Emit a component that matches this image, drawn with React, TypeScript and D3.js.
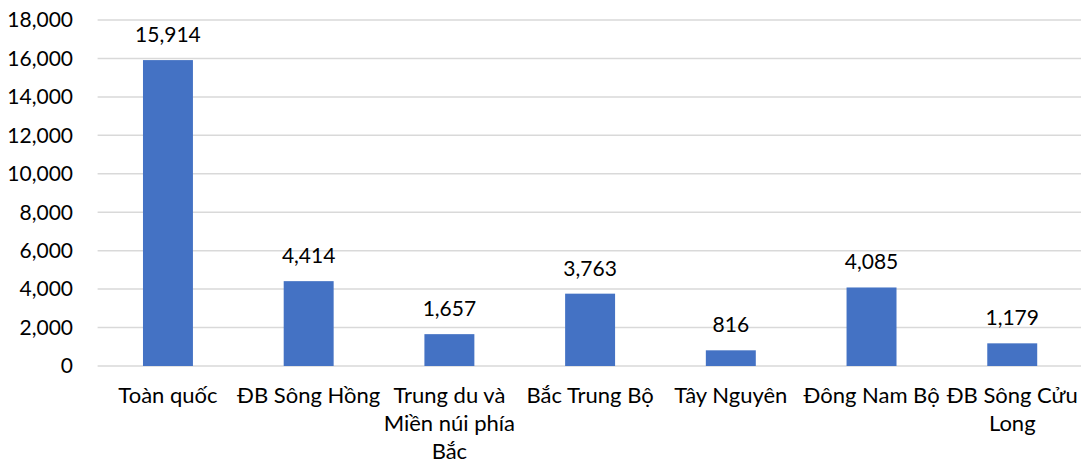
import React from "react";
import * as d3 from "d3";

const categories = [
  "Toàn quốc",
  "ĐB Sông Hồng",
  "Trung du và Miền núi phía Bắc",
  "Bắc Trung Bộ",
  "Tây Nguyên",
  "Đông Nam Bộ",
  "ĐB Sông Cửu Long",
];
const categoryLines = [
  ["Toàn quốc"],
  ["ĐB Sông Hồng"],
  ["Trung du và", "Miền núi phía", "Bắc"],
  ["Bắc Trung Bộ"],
  ["Tây Nguyên"],
  ["Đông Nam Bộ"],
  ["ĐB Sông Cửu", "Long"],
];
const values = [15914, 4414, 1657, 3763, 816, 4085, 1179];
const yTicks = [0, 2000, 4000, 6000, 8000, 10000, 12000, 14000, 16000, 18000];

const W = 1081;
const H = 466;
const FONT = "Lato, 'Open Sans', sans-serif";

export default function App() {
  const x = d3.scaleBand<string>().domain(categories).range([97.6, 1082.6]).paddingInner(0.645).paddingOuter(0.3225);
  const y = d3.scaleLinear().domain([0, 18000]).range([366, 20]);
  const fmt = d3.format(",");

  return (
    <svg width={W} height={H} style={{ position: "absolute", left: 0, top: 0, background: "#fff" }}>
      <rect x={0} y={0} width={W} height={H} fill="#fff" />
      {yTicks.map((t) => (
        <g key={t}>
          <line x1={97.6} x2={W} y1={y(t)} y2={y(t)} stroke="#d9d9d9" strokeWidth={1.5} />
          <text x={73} y={y(t)} dy="0.35em" textAnchor="end" fontFamily={FONT} fontSize={21} fill="#000">
            {fmt(t)}
          </text>
        </g>
      ))}
      {categories.map((c, i) => (
        <g key={c}>
          <rect x={x(c)} y={y(values[i])} width={x.bandwidth()} height={y(0) - y(values[i])} fill="#4472c4" />
          <text x={(x(c) as number) + x.bandwidth() / 2} y={y(values[i]) - 18} textAnchor="middle" fontFamily={FONT} fontSize={21} fill="#000">
            {fmt(values[i])}
          </text>
          <text textAnchor="middle" fontFamily={FONT} fontSize={22} fill="#000">
            {categoryLines[i].map((ln, j) => (
              <tspan key={j} x={(x(c) as number) + x.bandwidth() / 2} y={403 + j * 28}>
                {ln}
              </tspan>
            ))}
          </text>
        </g>
      ))}
    </svg>
  );
}
